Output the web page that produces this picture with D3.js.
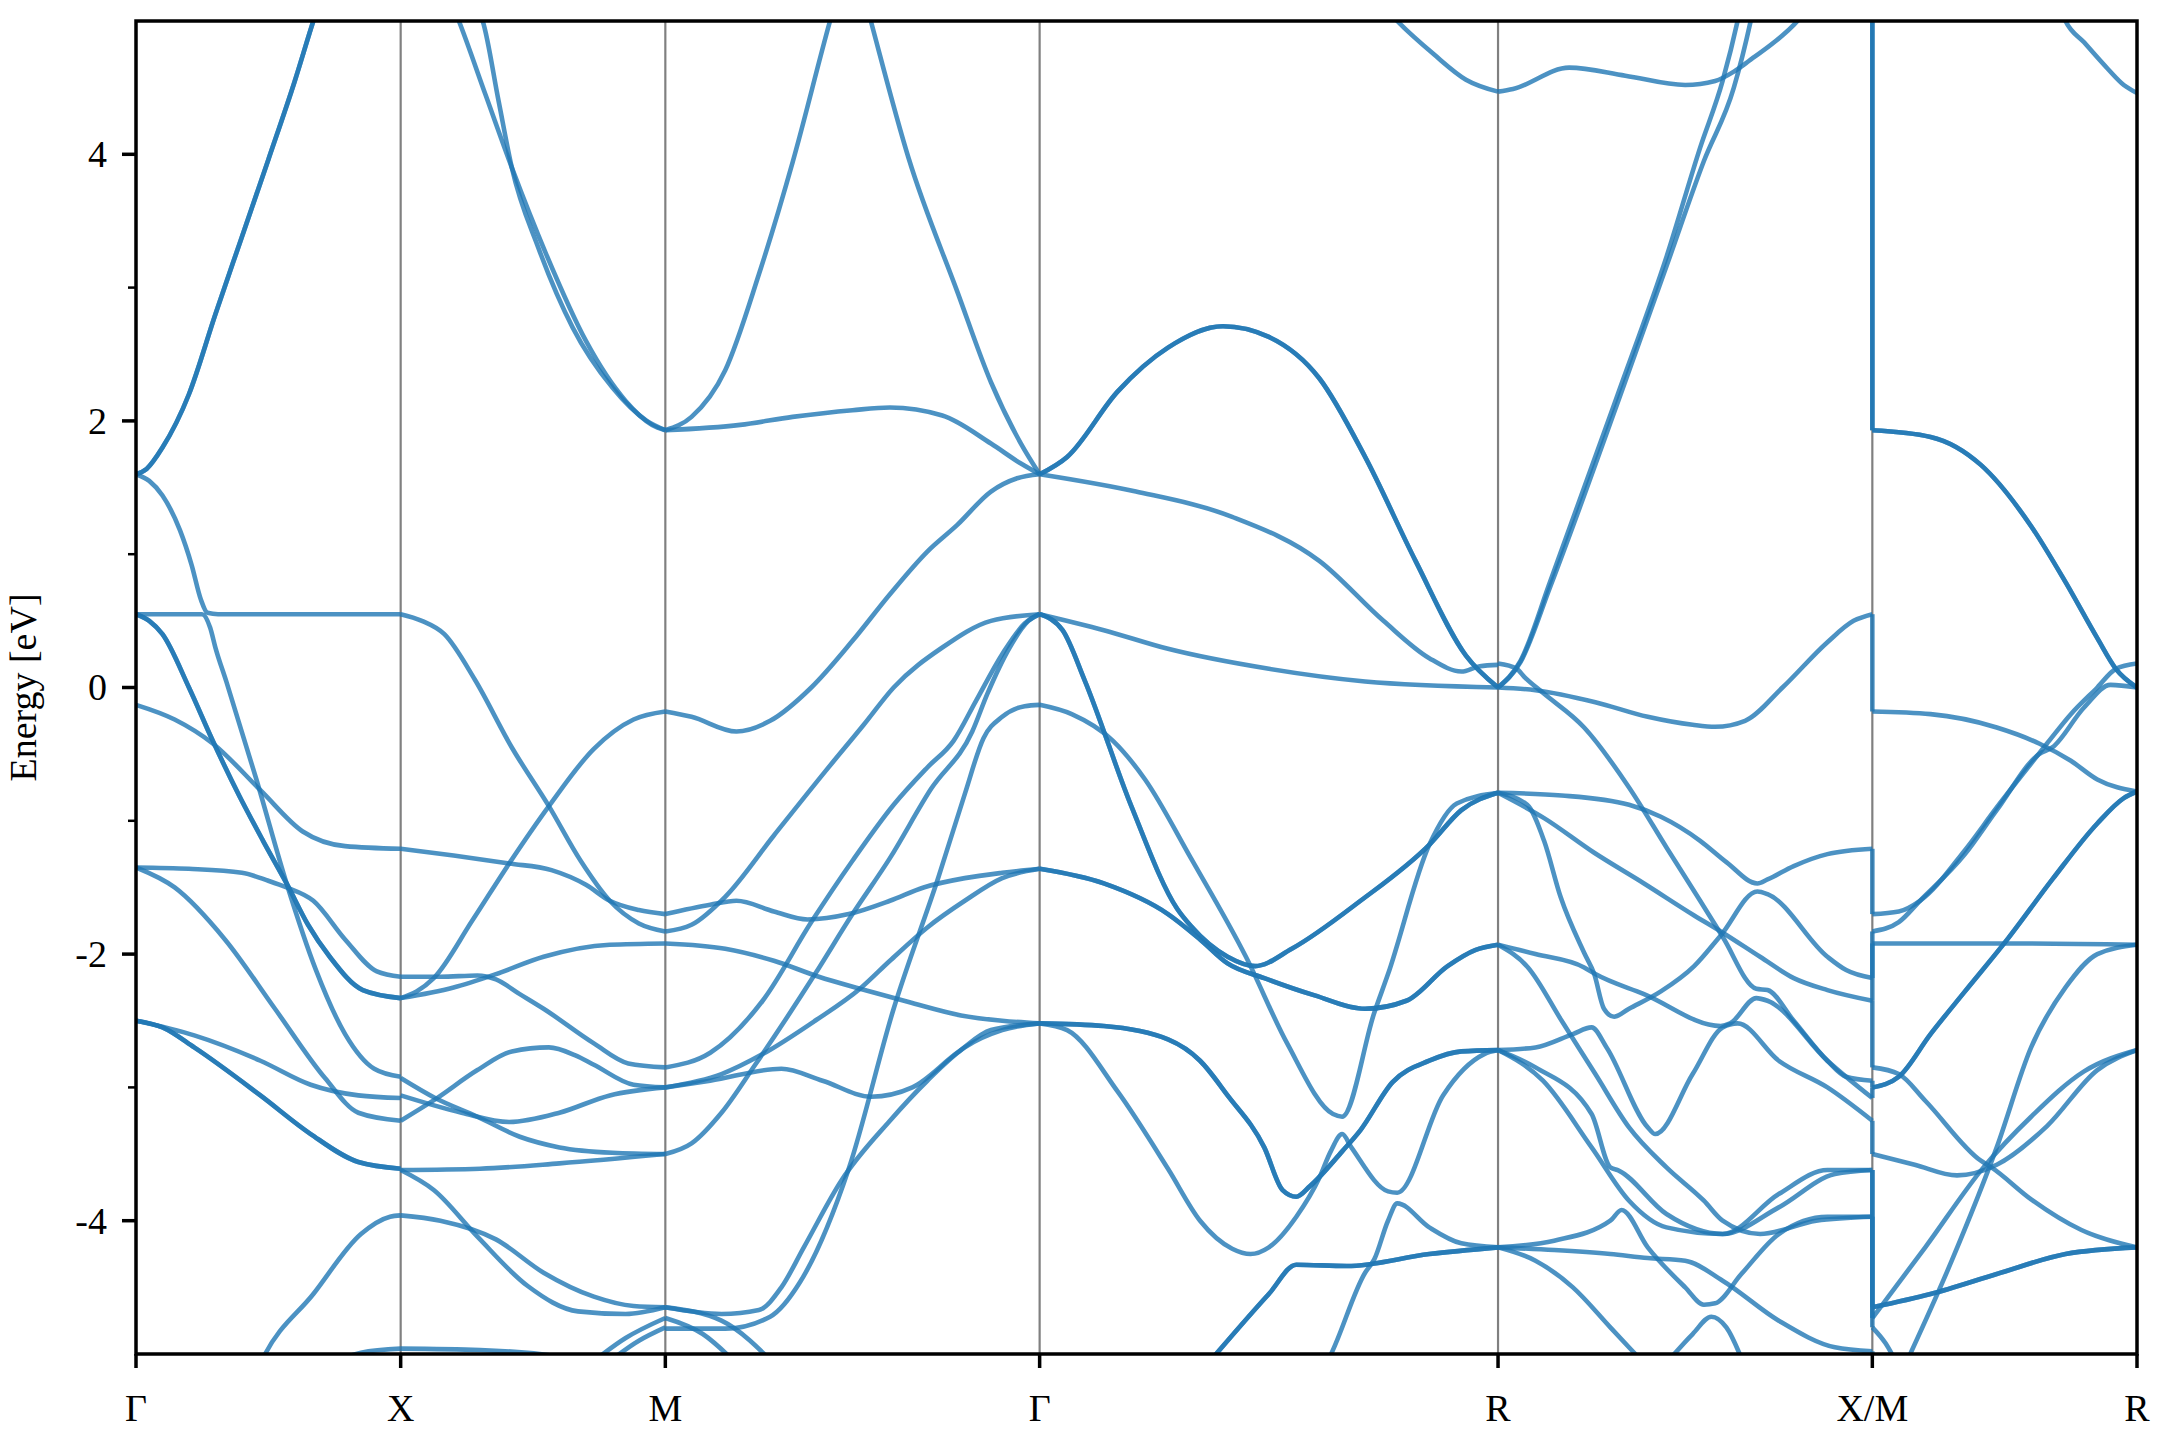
<!DOCTYPE html>
<html><head><meta charset="utf-8">
<script src="https://cdn.jsdelivr.net/npm/d3@7"></script>
<style>body{margin:0;background:#fff}</style></head>
<body><svg id="chart" width="2160" height="1440"></svg>
<script>
// ---------------- DATA ----------------
const kLabels = ["Γ","X","M","Γ","R","X/M","R"];
const kPath   = [0, 0.5, 1.0, 1.7071, 2.5731, 3.2802, 3.7802];   // cumulative |k| (2π/a)
const yMajor  = [-4,-2,0,2,4];
const yMinor  = [-3,-1,1,3];

// each band: list of [fraction along segment, energy eV]
const bandsGX = [
 [[0,1.6],[0.04,1.64],[0.1,1.8],[0.2,2.2],[0.3,2.8],[0.4,3.38],[0.5,3.96],[0.6,4.55],[0.67,5.0],[0.72,5.3]],
 [[0,1.6],[0.05,1.55],[0.1,1.44],[0.166,1.18],[0.21,0.92],[0.245,0.66],[0.27,0.56],[0.31,0.55],[0.6,0.55],[1,0.55]],
 [[0,0.55],[0.12,0.55],[0.25,0.55],[0.28,0.45],[0.3,0.3],[0.342,0.04],[0.455,-0.69],[0.569,-1.47],[0.68,-2.12],[0.79,-2.6],[0.9,-2.86],[1,-2.92]],
 [[0,0.55],[0.05,0.5],[0.1,0.4],[0.2,0.0],[0.29,-0.4],[0.392,-0.82],[0.48,-1.15],[0.569,-1.47],[0.65,-1.78],[0.732,-2.02],[0.857,-2.27],[1,-2.33]],
 [[0,-0.13],[0.146,-0.24],[0.29,-0.42],[0.47,-0.77],[0.63,-1.08],[0.79,-1.19],[1,-1.21]],
 [[0,-1.35],[0.2,-1.36],[0.4,-1.39],[0.5,-1.45],[0.569,-1.5],[0.67,-1.6],[0.79,-1.89],[0.91,-2.13],[1,-2.17]],
 [[0,-1.35],[0.146,-1.5],[0.336,-1.89],[0.525,-2.41],[0.714,-2.93],[0.84,-3.19],[1,-3.25]],
 [[0,-2.5],[0.22,-2.61],[0.47,-2.8],[0.66,-2.98],[0.84,-3.06],[1,-3.08]],
 [[0,-2.5],[0.1,-2.55],[0.22,-2.7],[0.47,-3.06],[0.66,-3.35],[0.84,-3.56],[1,-3.61]],
 [[0.44,-5.2],[0.48,-5.03],[0.67,-4.55],[0.85,-4.1],[0.96,-3.97],[1,-3.96]],
 [[0.7,-5.1],[0.85,-4.99],[1,-4.96]]
];
const doubleGX = [0,3,8];

const bandsXM = [
 [[0.2,5.1],[0.22,5.0],[0.32,4.45],[0.42,3.9],[0.55,3.25],[0.7,2.6],[0.85,2.15],[0.95,1.97],[1,1.93]],
 [[0.29,5.1],[0.31,5.0],[0.37,4.4],[0.42,3.9],[0.52,3.3],[0.65,2.7],[0.8,2.25],[0.93,2.0],[1,1.93]],
 [[0,0.55],[0.08,0.5],[0.165,0.4],[0.28,0.06],[0.42,-0.45],[0.56,-0.89],[0.68,-1.3],[0.79,-1.6],[0.9,-1.77],[1,-1.83]],
 [[0,-1.21],[0.2,-1.26],[0.41,-1.32],[0.57,-1.37],[0.7,-1.48],[0.79,-1.6],[0.9,-1.67],[1,-1.70]],
 [[0,-2.33],[0.06,-2.28],[0.125,-2.18],[0.27,-1.75],[0.41,-1.32],[0.56,-0.89],[0.73,-0.46],[0.88,-0.24],[1,-0.18]],
 [[0,-2.33],[0.2,-2.25],[0.36,-2.15],[0.54,-2.02],[0.79,-1.93],[1,-1.92]],
 [[0,-2.17],[0.15,-2.17],[0.29,-2.16],[0.36,-2.19],[0.45,-2.3],[0.54,-2.41],[0.73,-2.67],[0.86,-2.82],[1,-2.85]],
 [[0,-2.93],[0.13,-3.08],[0.29,-3.22],[0.45,-3.37],[0.6,-3.45],[0.8,-3.49],[1,-3.5]],
 [[0,-3.06],[0.23,-3.19],[0.41,-3.26],[0.6,-3.19],[0.79,-3.06],[1,-3.0]],
 [[0,-3.25],[0.13,-3.09],[0.29,-2.87],[0.42,-2.73],[0.56,-2.7],[0.66,-2.76],[0.73,-2.83],[0.88,-2.98],[1,-3.0]],
 [[0,-3.62],[0.3,-3.61],[0.6,-3.57],[1,-3.5]],
 [[0,-3.62],[0.125,-3.77],[0.29,-4.12],[0.48,-4.49],[0.67,-4.68],[0.85,-4.7],[1,-4.65]],
 [[0,-3.96],[0.15,-4.0],[0.36,-4.14],[0.54,-4.39],[0.73,-4.57],[0.88,-4.64],[1,-4.65]],
 [[0,-4.96],[0.3,-4.97],[0.6,-5.02],[0.8,-5.1]],
 [[0.7,-5.1],[0.85,-4.88],[1,-4.73]],
 [[0.76,-5.1],[0.9,-4.9],[1,-4.80]]
];
const doubleXM = [];

const bandsMG = [
 [[0,1.93],[0.07,2.03],[0.16,2.38],[0.25,3.1],[0.34,3.94],[0.44,5.0],[0.46,5.2]],
 [[0.53,5.2],[0.549,5.0],[0.65,3.97],[0.78,2.97],[0.87,2.29],[0.95,1.83],[1,1.6]],
 [[0,1.93],[0.2,1.97],[0.34,2.03],[0.5,2.08],[0.6,2.1],[0.74,2.04],[0.87,1.83],[0.95,1.68],[1,1.6]],
 [[0,-0.18],[0.07,-0.22],[0.19,-0.33],[0.28,-0.25],[0.39,0],[0.5,0.35],[0.6,0.7],[0.7,1.02],[0.78,1.22],[0.87,1.47],[0.94,1.57],[1,1.6]],
 [[0,-1.83],[0.07,-1.78],[0.16,-1.57],[0.29,-1.11],[0.43,-0.62],[0.53,-0.28],[0.61,0.0],[0.74,0.3],[0.87,0.5],[1,0.55]],
 [[0,-2.85],[0.12,-2.74],[0.26,-2.35],[0.39,-1.76],[0.5,-1.3],[0.61,-0.88],[0.7,-0.6],[0.77,-0.4],[0.83,-0.1],[0.9,0.25],[0.96,0.48],[1,0.55]],
 [[0,-3.5],[0.07,-3.42],[0.15,-3.19],[0.24,-2.83],[0.4,-2.15],[0.5,-1.7],[0.6,-1.28],[0.71,-0.76],[0.82,-0.33],[0.86,-0.05],[0.92,0.3],[0.97,0.5],[1,0.55]],
 [[0,-4.81],[0.16,-4.81],[0.28,-4.72],[0.36,-4.46],[0.49,-3.61],[0.61,-2.41],[0.73,-1.42],[0.8,-0.8],[0.85,-0.38],[0.9,-0.22],[0.96,-0.14],[1,-0.13]],
 [[0,-1.70],[0.12,-1.63],[0.19,-1.60],[0.29,-1.68],[0.38,-1.74],[0.49,-1.70],[0.6,-1.6],[0.69,-1.5],[0.8,-1.43],[0.9,-1.39],[1,-1.36]],
 [[0,-1.92],[0.16,-1.96],[0.29,-2.05],[0.41,-2.17],[0.52,-2.26],[0.65,-2.36],[0.79,-2.46],[0.9,-2.5],[1,-2.52]],
 [[0,-3.0],[0.15,-2.9],[0.26,-2.75],[0.4,-2.5],[0.52,-2.26],[0.6,-2.05],[0.7,-1.8],[0.8,-1.6],[0.9,-1.43],[1,-1.36]],
 [[0,-3.0],[0.12,-2.95],[0.31,-2.86],[0.42,-2.95],[0.55,-3.07],[0.66,-3.0],[0.78,-2.74],[0.87,-2.57],[1,-2.52]],
 [[0,-4.65],[0.15,-4.7],[0.25,-4.67],[0.31,-4.5],[0.37,-4.2],[0.47,-3.7],[0.6,-3.25],[0.7,-2.95],[0.8,-2.7],[0.9,-2.57],[1,-2.52]],
 [[0,-4.73],[0.1,-4.85],[0.2,-5.1]],
 [[0,-4.65],[0.15,-4.75],[0.3,-5.1]]
];
const doubleMG = [];

const bandsGR = [
 [[0,1.6],[0.06,1.73],[0.17,2.22],[0.28,2.55],[0.4,2.71],[0.5,2.63],[0.61,2.32],[0.71,1.73],[0.82,0.95],[0.93,0.24],[1,0.0]],
 [[0,1.6],[0.21,1.47],[0.42,1.28],[0.61,0.95],[0.75,0.5],[0.85,0.22],[0.92,0.12],[0.96,0.16],[1,0.17]],
 [[0,0.55],[0.14,0.43],[0.28,0.29],[0.5,0.14],[0.71,0.045],[1,0.0]],
 [[0,0.55],[0.05,0.43],[0.098,0.056],[0.2,-0.89],[0.3,-1.66],[0.33,-1.79],[0.41,-2.02],[0.47,-2.09],[0.55,-1.96],[0.7,-1.6],[0.85,-1.18],[0.92,-0.92],[1,-0.79]],
 [[0,-0.13],[0.07,-0.2],[0.16,-0.4],[0.23,-0.69],[0.33,-1.28],[0.45,-2.02],[0.54,-2.67],[0.64,-3.2],[0.66,-3.22],[0.73,-2.44],[0.76,-2.15],[0.85,-1.18],[0.91,-0.87],[1,-0.79]],
 [[0,-1.36],[0.14,-1.47],[0.28,-1.70],[0.35,-1.89],[0.41,-2.07],[0.49,-2.18],[0.6,-2.31],[0.71,-2.41],[0.8,-2.35],[0.89,-2.09],[0.95,-1.97],[1,-1.93]],
 [[0,-2.52],[0.14,-2.54],[0.28,-2.64],[0.35,-2.8],[0.41,-3.06],[0.49,-3.45],[0.53,-3.77],[0.56,-3.82],[0.59,-3.74],[0.66,-3.48],[0.7,-3.32],[0.77,-2.96],[0.85,-2.8],[0.92,-2.73],[1,-2.72]],
 [[0,-2.52],[0.06,-2.57],[0.17,-3.03],[0.28,-3.61],[0.35,-4.0],[0.42,-4.21],[0.46,-4.25],[0.5,-4.2],[0.56,-3.97],[0.61,-3.68],[0.635,-3.48],[0.66,-3.35],[0.68,-3.45],[0.76,-3.78],[0.78,-3.79],[0.88,-3.06],[0.97,-2.75],[1,-2.72]],
 [[0.36,-5.1],[0.375,-5.04],[0.5,-4.55],[0.56,-4.33],[0.67,-4.34],[0.85,-4.25],[1,-4.2]],
 [[0.62,-5.1],[0.63,-5.04],[0.71,-4.39],[0.73,-4.29],[0.76,-4.0],[0.78,-3.87],[0.85,-4.05],[0.92,-4.17],[1,-4.2]],
 [[0.74,5.15],[0.78,5.0],[0.86,4.75],[0.93,4.56],[1,4.47]]
];
const doubleGR = [0,3,5,6,8];

const bandsRX = [
 [[0,4.47],[0.04,4.49],[0.19,4.65],[0.34,4.59],[0.5,4.52],[0.58,4.55],[0.63,4.62],[0.67,4.70],[0.8,5.0],[0.83,5.1]],
 [[0,0],[0.06,0.2],[0.14,0.8],[0.32,2.2],[0.45,3.23],[0.54,4.05],[0.6,4.55],[0.64,5.0],[0.655,5.2]],
 [[0,0],[0.06,0.19],[0.14,0.76],[0.32,2.14],[0.45,3.16],[0.55,3.95],[0.63,4.5],[0.675,5.0],[0.69,5.2]],
 [[0,0.0],[0.1,-0.02],[0.26,-0.11],[0.4,-0.22],[0.52,-0.28],[0.58,-0.295],[0.66,-0.25],[0.76,0.0],[0.88,0.34],[0.95,0.5],[1,0.55]],
 [[0,-0.79],[0.17,-0.81],[0.35,-0.88],[0.435,-0.97],[0.54,-1.15],[0.61,-1.31],[0.693,-1.47],[0.72,-1.44],[0.79,-1.34],[0.88,-1.25],[1,-1.21]],
 [[0,-0.79],[0.123,-0.98],[0.257,-1.24],[0.39,-1.47],[0.524,-1.71],[0.595,-1.83],[0.70,-2.02],[0.79,-2.18],[0.88,-2.27],[1,-2.35]],
 [[0,0.18],[0.05,0.14],[0.07,0.08],[0.12,-0.04],[0.23,-0.3],[0.35,-0.75],[0.45,-1.2],[0.54,-1.6],[0.6,-1.87],[0.69,-2.26],[0.72,-2.27],[0.79,-2.5],[0.88,-2.8],[0.93,-2.92],[1,-2.95]],
 [[0,-0.79],[0.078,-0.88],[0.123,-1.15],[0.167,-1.57],[0.23,-1.99],[0.257,-2.15],[0.283,-2.41],[0.31,-2.47],[0.35,-2.41],[0.435,-2.28],[0.524,-2.09],[0.595,-1.86],[0.693,-1.53],[0.72,-1.55],[0.88,-2.02],[0.93,-2.12],[1,-2.18]],
 [[0,-1.93],[0.1,-2.0],[0.23,-2.1],[0.26,-2.15],[0.39,-2.3],[0.595,-2.54],[0.62,-2.52],[0.69,-2.33],[0.72,-2.35],[0.88,-2.8],[1,-3.08]],
 [[0,-1.93],[0.08,-2.1],[0.17,-2.5],[0.26,-2.9],[0.35,-3.3],[0.45,-3.6],[0.55,-3.85],[0.6,-4.0],[0.7,-4.1],[0.85,-4.0],[1,-3.97]],
 [[0,-2.72],[0.1,-2.7],[0.2,-2.6],[0.25,-2.55],[0.29,-2.7],[0.4,-3.3],[0.42,-3.35],[0.52,-2.9],[0.6,-2.55],[0.64,-2.52],[0.75,-2.8],[0.88,-3.0],[1,-3.25]],
 [[0,-2.72],[0.1,-2.85],[0.25,-3.2],[0.3,-3.6],[0.32,-3.62],[0.45,-3.95],[0.6,-4.1],[0.75,-3.8],[0.88,-3.62],[1,-3.62]],
 [[0,-2.72],[0.12,-2.95],[0.25,-3.45],[0.35,-3.85],[0.45,-4.05],[0.6,-4.1],[0.75,-3.9],[0.9,-3.65],[1,-3.62]],
 [[0,-4.2],[0.15,-4.15],[0.3,-4.0],[0.33,-3.92],[0.4,-4.2],[0.5,-4.5],[0.55,-4.63],[0.58,-4.62],[0.65,-4.4],[0.75,-4.1],[0.88,-3.97],[1,-3.97]],
 [[0,-4.2],[0.15,-4.22],[0.3,-4.25],[0.4,-4.28],[0.5,-4.3],[0.6,-4.45],[0.75,-4.75],[0.9,-4.95],[1,-4.98]],
 [[0,-4.2],[0.1,-4.3],[0.2,-4.5],[0.3,-4.8],[0.4,-5.1]],
 [[0.44,-5.1],[0.52,-4.85],[0.57,-4.72],[0.61,-4.8],[0.66,-5.1]]
];
const doubleRX = [];

const bandsMR = [
 [[0,1.93],[0.22,1.88],[0.41,1.67],[0.6,1.21],[0.73,0.79],[0.85,0.37],[0.92,0.14],[1,0.0]],
 [[0.7,5.15],[0.73,5.0],[0.8,4.84],[0.89,4.64],[0.95,4.52],[1,4.46]],
 [[0,-0.18],[0.22,-0.2],[0.47,-0.3],[0.63,-0.42],[0.75,-0.55],[0.85,-0.69],[1,-0.78]],
 [[0,-1.70],[0.1,-1.68],[0.18,-1.60],[0.35,-1.22],[0.47,-0.9],[0.6,-0.57],[0.66,-0.42],[0.75,-0.2],[0.85,0.0],[0.92,0.14],[1,0.18]],
 [[0,-1.83],[0.1,-1.76],[0.18,-1.6],[0.35,-1.25],[0.47,-0.92],[0.63,-0.5],[0.68,-0.45],[0.8,-0.15],[0.9,0.02],[1,0.0]],
 [[0,-1.92],[0.5,-1.92],[1,-1.93]],
 [[0,-3.0],[0.1,-2.92],[0.22,-2.6],[0.35,-2.28],[0.51,-1.89],[0.68,-1.44],[0.85,-1.02],[0.95,-0.83],[1,-0.78]],
 [[0,-2.85],[0.1,-2.9],[0.2,-3.1],[0.41,-3.55],[0.45,-3.6],[0.6,-3.84],[0.79,-4.07],[1,-4.2]],
 [[0,-3.5],[0.16,-3.58],[0.32,-3.66],[0.47,-3.58],[0.66,-3.29],[0.85,-2.87],[1,-2.72]],
 [[0,-4.65],[0.22,-4.55],[0.47,-4.4],[0.73,-4.25],[1,-4.2]],
 [[0,-4.73],[0.2,-4.2],[0.42,-3.6],[0.6,-3.22],[0.8,-2.88],[1,-2.72]],
 [[0.12,-5.1],[0.3,-4.3],[0.47,-3.45],[0.6,-2.7],[0.73,-2.25],[0.85,-2.0],[1,-1.93]],
 [[0,-4.80],[0.05,-4.92],[0.1,-5.1]]
];
const doubleMR = [0,6,9];

// vertical jumps at the X|M discontinuity: [E at X, E at M]
const jumpXM = [[5.5,1.93],[5.5,1.93],[0.55,-0.18],[-1.21,-1.70],[-2.18,-1.83],[-2.35,-1.92],[-2.35,-2.85],
                [-2.95,-3.0],[-3.08,-3.0],[-3.25,-3.5],[-3.62,-4.65],[-3.62,-4.73],[-3.97,-4.80],[-4.98,-5.2]];

// ---------------- DRAW ----------------
const W = 2160, H = 1440;
const m = {l:136, r:23, t:21, b:86};
const svg = d3.select("#chart");
const x = d3.scaleLinear().domain([kPath[0], kPath[kPath.length-1]]).range([m.l, W-m.r]);
const y = d3.scaleLinear().domain([-5,5]).range([H-m.b, m.t]);

svg.append("defs").append("clipPath").attr("id","clip")
  .append("rect").attr("x",m.l).attr("y",m.t).attr("width",W-m.l-m.r).attr("height",H-m.t-m.b);

// vertical high-symmetry lines
svg.append("g").selectAll("line").data(kPath.slice(1,-1)).join("line")
  .attr("x1",d=>x(d)).attr("x2",d=>x(d)).attr("y1",m.t).attr("y2",H-m.b)
  .attr("stroke","#808080").attr("stroke-width",2.2);

const plot = svg.append("g").attr("clip-path","url(#clip)");
const line = d3.line().x(d=>x(d[0])).y(d=>y(d[1])).curve(d3.curveMonotoneX);
const segs = [[bandsGX,doubleGX],[bandsXM,doubleXM],[bandsMG,doubleMG],[bandsGR,doubleGR],[bandsRX,doubleRX],[bandsMR,doubleMR]];
const col = "#1f77b4";
const LW = 4.6;
segs.forEach(([bands,dbl],i)=>{
  const k0=kPath[i], k1=kPath[i+1];
  bands.forEach((b,j)=>{
    const pts = b.map(([t,e])=>[k0+t*(k1-k0), e]);
    const n = dbl.includes(j)?2:1;
    for(let r=0;r<n;r++){
      plot.append("path").attr("d",line(pts)).attr("fill","none")
        .attr("stroke",col).attr("stroke-opacity",0.8).attr("stroke-width",LW)
        .attr("stroke-linejoin","round");
    }
  });
});
// discontinuity connectors
plot.append("g").selectAll("line").data(jumpXM).join("line")
  .attr("x1",x(kPath[5])).attr("x2",x(kPath[5]))
  .attr("y1",d=>y(d[0])).attr("y2",d=>y(d[1]))
  .attr("stroke",col).attr("stroke-opacity",0.8).attr("stroke-width",LW);

// frame
svg.append("rect").attr("x",m.l).attr("y",m.t).attr("width",W-m.l-m.r).attr("height",H-m.t-m.b)
  .attr("fill","none").attr("stroke","#000").attr("stroke-width",3.5);

// y ticks
const font = "'Liberation Serif','Times New Roman',serif";
svg.append("g").selectAll("line.maj").data(yMajor).join("line")
  .attr("x1",m.l-14).attr("x2",m.l).attr("y1",d=>y(d)).attr("y2",d=>y(d))
  .attr("stroke","#000").attr("stroke-width",3.5);
svg.append("g").selectAll("line.min").data(yMinor).join("line")
  .attr("x1",m.l-8).attr("x2",m.l).attr("y1",d=>y(d)).attr("y2",d=>y(d))
  .attr("stroke","#000").attr("stroke-width",2.5);
svg.append("g").selectAll("text").data(yMajor).join("text")
  .attr("x",m.l-29).attr("y",d=>y(d)).attr("dy","0.34em")
  .attr("text-anchor","end").attr("font-family",font).attr("font-size",38)
  .text(d=>String(d));
// x ticks
svg.append("g").selectAll("line").data(kPath).join("line")
  .attr("x1",d=>x(d)).attr("x2",d=>x(d)).attr("y1",H-m.b).attr("y2",H-m.b+14)
  .attr("stroke","#000").attr("stroke-width",3.5);
svg.append("g").selectAll("text").data(kPath).join("text")
  .attr("x",d=>x(d)).attr("y",1421).attr("text-anchor","middle")
  .attr("font-family",font).attr("font-size",38)
  .text((d,i)=>kLabels[i]);
// y label
svg.append("text").attr("transform",`translate(36,${(m.t+H-m.b)/2}) rotate(-90)`)
  .attr("text-anchor","middle").attr("font-family",font).attr("font-size",38)
  .text("Energy [eV]");
</script></body></html>
